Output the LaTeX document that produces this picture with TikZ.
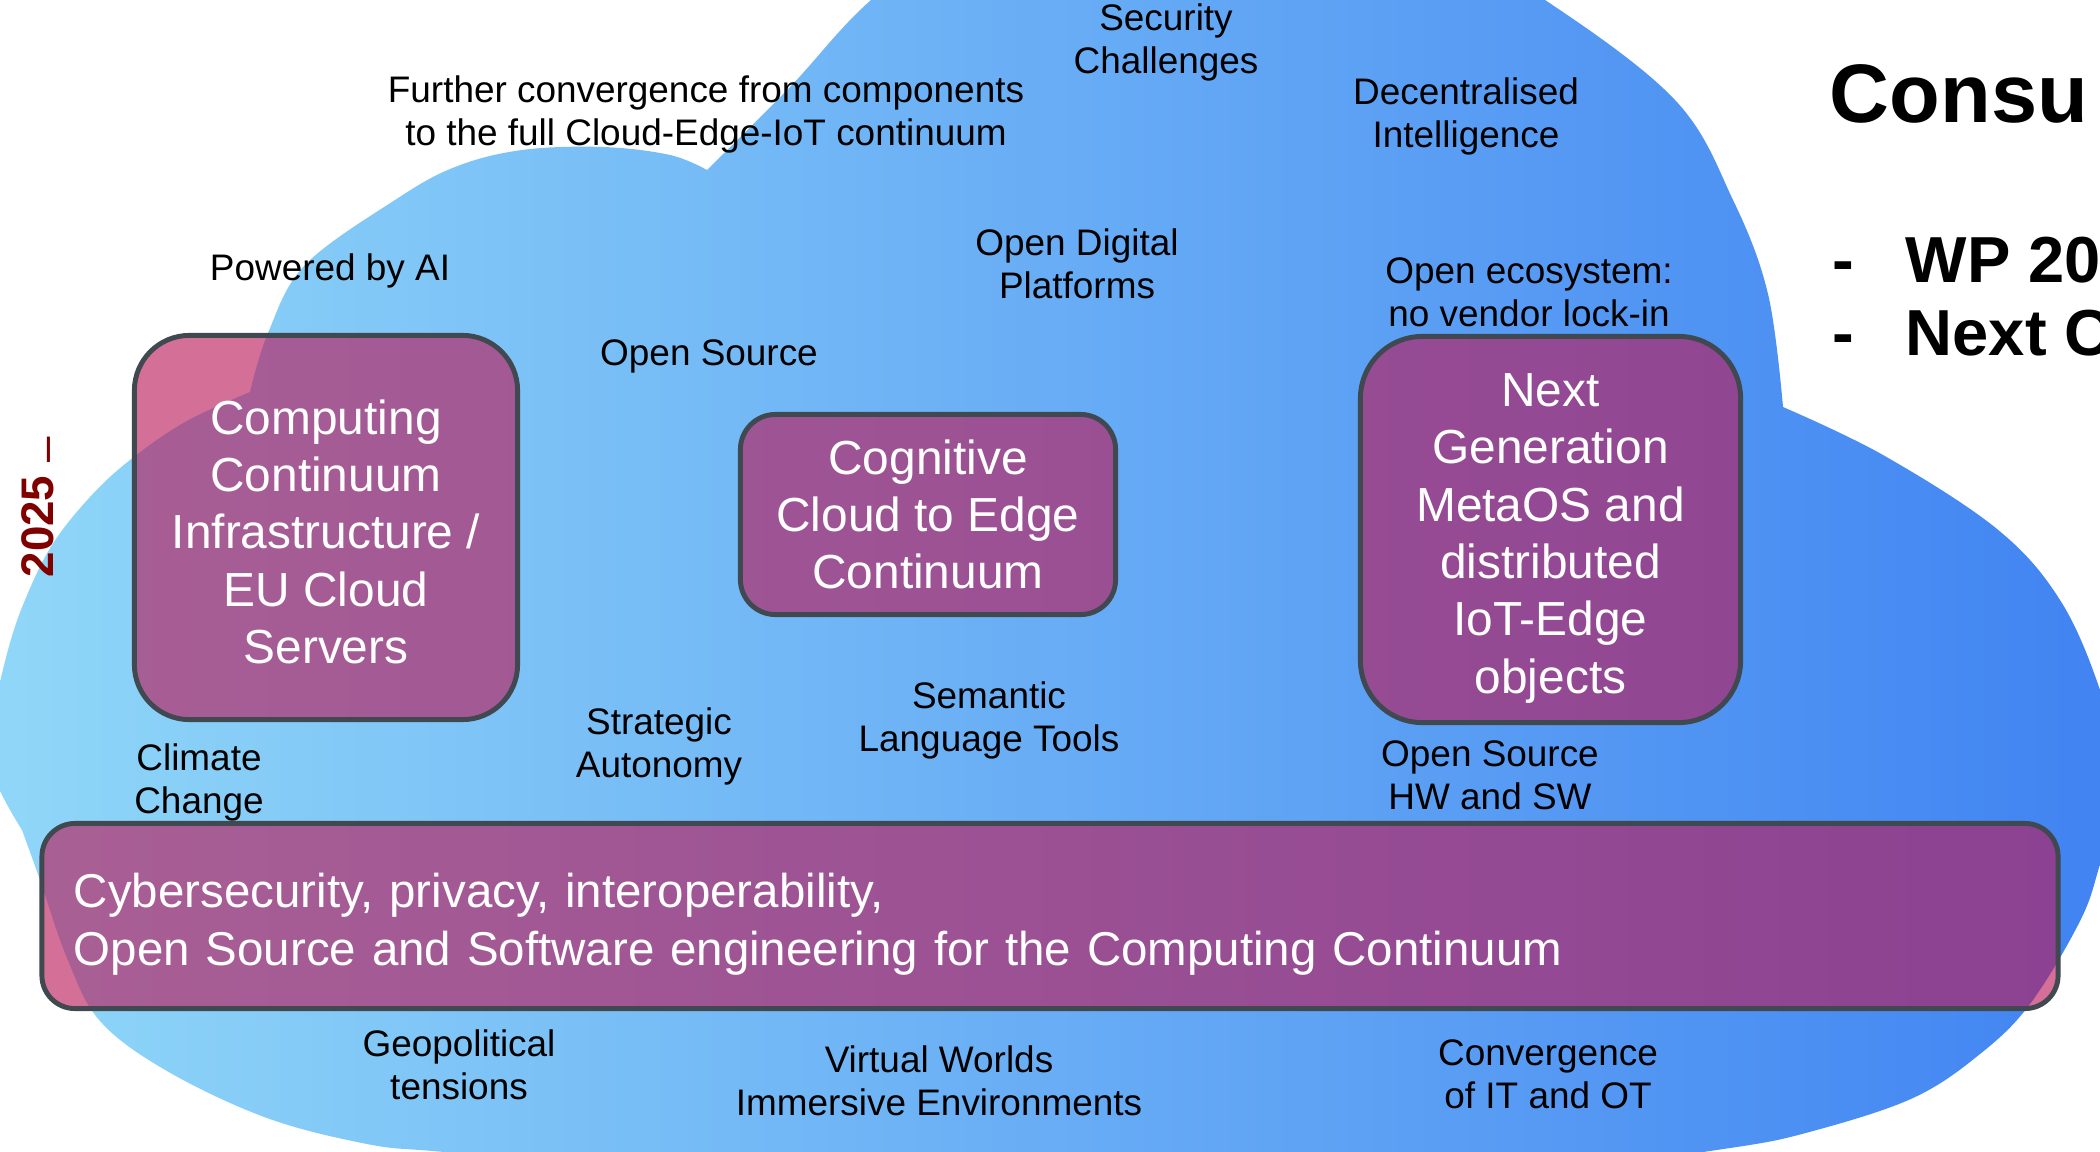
\documentclass[tikz,border=0pt]{standalone}
\usepackage{fontspec}
\setmainfont{Liberation Sans}
\definecolor{cloudL}{RGB}{144,215,248}
\definecolor{cloudR}{RGB}{64,131,242}
\definecolor{boxfill}{RGB}{186,24,88}
\definecolor{boxline}{RGB}{64,72,80}
\definecolor{yearred}{RGB}{128,0,0}
\tikzset{
  bx/.style={draw=boxline, line width=1.4pt, fill=boxfill, fill opacity=0.62, text opacity=1,
    text=white, font=\fontsize{13.6}{16.3}\selectfont, align=center, inner sep=2pt},
  lbl/.style={font=\fontsize{10.5}{12}\selectfont, align=center, anchor=base, inner sep=0pt, text=black},
  ttlfont/.style={anchor=base west, inner sep=0pt, font=\fontsize{18.5}{22}\selectfont\bfseries},
}
\begin{document}
\begin{tikzpicture}[x=0.01cm,y=-0.01cm]
\useasboundingbox (0,0) rectangle (2100,1151);
\clip (0,0) rectangle (2100,1151);
\fill[white] (0,0) rectangle (2100,1151);
% cloud
\shade[left color=cloudL, right color=cloudR]
  plot[smooth, tension=0.6] coordinates {(707,170) (790,87) (871,0) (980,-80) (1200,-130) (1420,-70) (1545,0) (1675,100) (1733,200) (1768,294) (1783,407)}
  -- plot[smooth, tension=0.6] coordinates {(1783,407) (1883,455) (1997,529) (2060,600) (2100,690) (2122,780) (2100,864) (2080,921) (2030,1004) (1980,1054) (1913,1098) (1813,1131) (1730,1148) (1550,1170) (1300,1180) (1000,1180) (700,1170) (550,1160) (433,1151) (367,1144) (267,1118) (167,1071) (100,1021) (67,958) (40,880) (22,830)}
  -- plot[smooth, tension=0.6] coordinates {(22,830) (-8,770) (-5,710) (8,650) (25,600) (52,545) (90,497) (130,460) (185,422) (250,392)}
  -- plot[smooth, tension=0.6] coordinates {(250,392) (268,333) (305,265) (395,200) (455,167) (522,150) (603,147) (670,155) (707,170)}
  -- cycle;
% boxes
\node[bx, minimum width=3.83cm, minimum height=3.84cm, rounded corners=0.55cm] (ccinf) at (326,527.5)
  {\rule{0pt}{0.9em}Computing\\Continuum\\Infrastructure /\\EU Cloud\\Servers};
\node[bx, minimum width=3.75cm, minimum height=2.0cm, rounded corners=0.35cm] (cog) at (928,514.5)
  {Cognitive\\Cloud to Edge\\Continuum};
\node[bx, minimum width=3.80cm, minimum height=3.86cm, rounded corners=0.62cm] (meta) at (1550.5,529.5)
  {\rule{0pt}{1.06em}Next\\Generation\\MetaOS and\\distributed\\IoT-Edge\\objects};
\node[bx, minimum height=1.85cm, rounded corners=0.33cm, text width=19.51cm, inner xsep=0.32cm, align=left,
  font=\fontsize{13.5}{16.3}\selectfont] (cyber) at (1050,916)
  {\rule{0pt}{1.07em}Cybersecurity, privacy, interoperability,\\Open Source and Software engineering for the Computing Continuum};
% labels (anchor = baseline of the last line)
\node[lbl] (sec) at (1166,73) {Security\\Challenges};
\node[lbl] (furth) at (706,145) {Further convergence from components\\to the full Cloud-Edge-IoT continuum};
\node[lbl] (dec) at (1466,147) {Decentralised\\Intelligence};
\node[lbl] (pai) at (330,280) {Powered by AI};
\node[lbl] (odp) at (1077,298) {Open Digital\\Platforms};
\node[lbl] (oeco) at (1529,326) {Open ecosystem:\\no vendor lock-in};
\node[lbl] (osrc) at (709,365) {Open Source};
\node[lbl] (clim) at (199,813) {Climate\\Change};
\node[lbl] (strat) at (659,777) {Strategic\\Autonomy};
\node[lbl] (sem) at (989,751) {Semantic\\Language Tools};
\node[lbl] (oshw) at (1490,809) {Open Source\\HW and SW};
\node[lbl] (geo) at (459,1099) {Geopolitical\\tensions};
\node[lbl] (vw) at (939,1115) {Virtual Worlds\\Immersive Environments};
\node[lbl] (conv) at (1548,1108) {Convergence\\of IT and OT};
% title area
\node[anchor=base west, inner sep=0pt, font=\fontsize{23.6}{28}\selectfont\bfseries] (ttl) at (1829,122) {Consu};
\node[ttlfont] (d1) at (1832,282) {-};
\node[ttlfont] (wp) at (1905,282) {WP 202};
\node[ttlfont] (d2) at (1832,355) {-};
\node[ttlfont] (nx) at (1905,355) {Next C};
% year
\node[rotate=90, anchor=base west, inner sep=0pt, text=yearred, font=\fontsize{13}{15}\selectfont\bfseries] (yr) at (53,578)
  {2025 \raisebox{-0.17em}{\mdseries –}};
\end{tikzpicture}
\end{document}
